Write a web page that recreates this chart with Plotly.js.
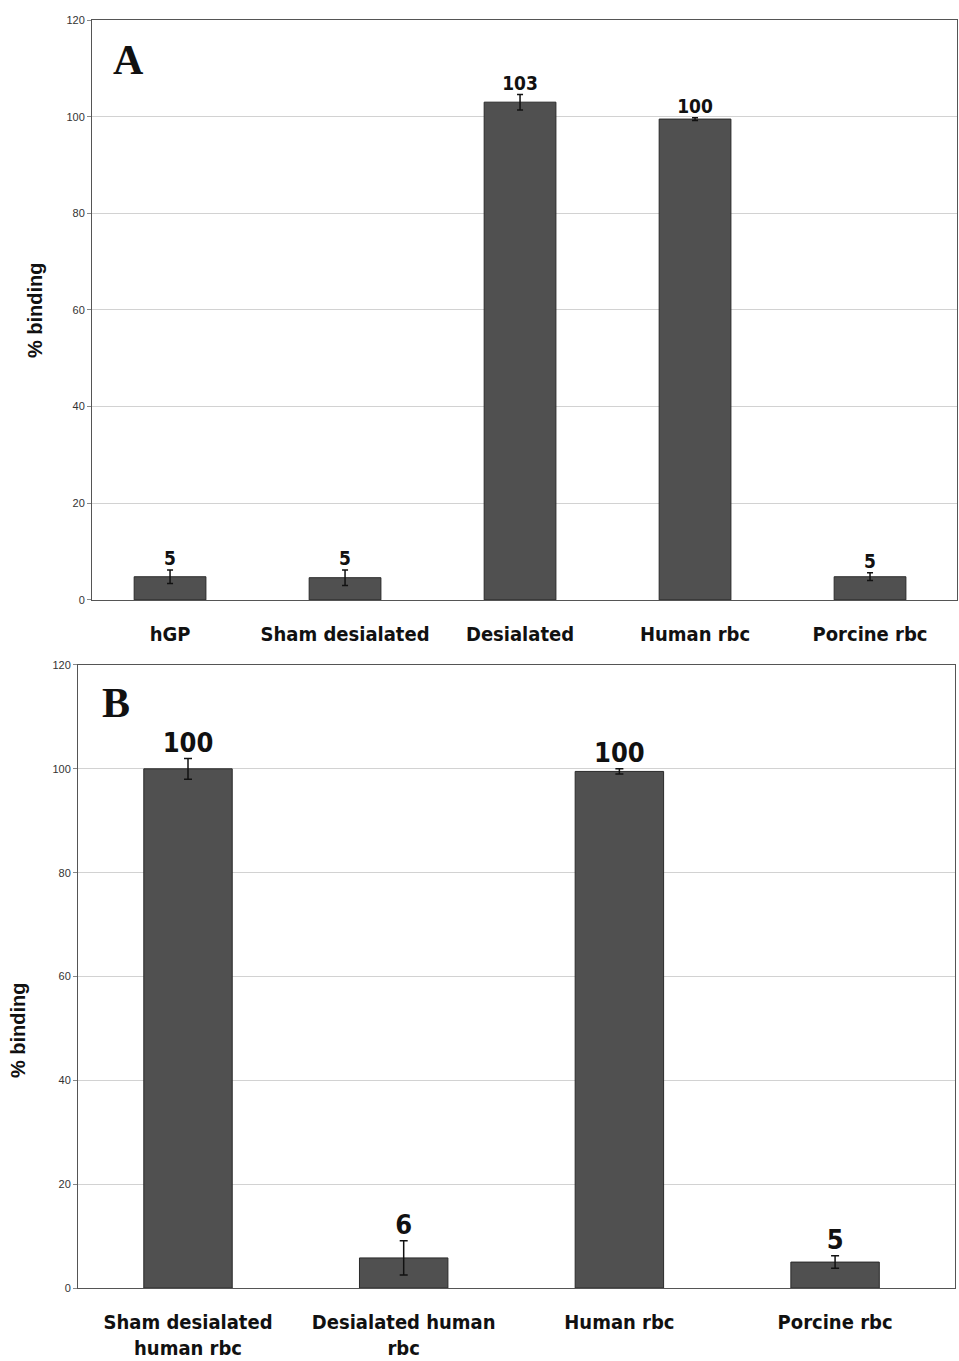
<!DOCTYPE html>
<html>
<head>
<meta charset="utf-8">
<script src="https://cdn.plot.ly/plotly-3.0.1.min.js"></script>
<style>html,body{margin:0;padding:0;background:#fff;}#chart{width:959px;height:1361px;}</style>
</head>
<body>
<div id="chart"></div>
<script>
// Panel A data
var catsA = ['hGP', 'Sham desialated', 'Desialated', 'Human rbc', 'Porcine rbc'];
var valsA = [4.8, 4.6, 103, 99.5, 4.8];
var errA = [1.4, 1.6, 1.6, 0.3, 0.8];
var labelsA = ['5', '5', '103', '100', '5'];

// Panel B data
var catsB = ['Sham desialated<br>human rbc', 'Desialated human<br>rbc', 'Human rbc', 'Porcine rbc'];
var valsB = [100, 5.8, 99.5, 5.0];
var errB = [2.0, 3.3, 0.5, 1.2];
var labelsB = ['100', '6', '100', '5'];

var yTicks = [0, 20, 40, 60, 80, 100, 120];
var panelLetters = ['A', 'B'];
var yTitle = '% binding';

var barColor = '#505050';
var font = 'Liberation Sans, Arial, sans-serif';
var narrow = 'DejaVu Sans Condensed, Roboto Condensed, Liberation Sans, sans-serif';

function tops(v, e) { return v.map(function (x, i) { return x + e[i]; }); }

var traces = [
  {
    type: 'bar', x: catsA, y: valsA, xaxis: 'x', yaxis: 'y',
    marker: {color: barColor, line: {color: '#2a2a2a', width: 1}},
    error_y: {type: 'data', array: errA, visible: true, color: '#111', thickness: 1.5, width: 3},
    width: 0.41, hoverinfo: 'none'
  },
  {
    type: 'scatter', mode: 'text', x: catsA, y: tops(valsA, errA), text: labelsA,
    textposition: 'top center', xaxis: 'x', yaxis: 'y',
    textfont: {family: narrow, size: 19, color: '#111', weight: 'bold', stretch: 'condensed'}, hoverinfo: 'none'
  },
  {
    type: 'bar', x: catsB, y: valsB, xaxis: 'x2', yaxis: 'y2',
    marker: {color: barColor, line: {color: '#2a2a2a', width: 1}},
    error_y: {type: 'data', array: errB, visible: true, color: '#111', thickness: 1.5, width: 4},
    width: 0.41, hoverinfo: 'none'
  },
  {
    type: 'scatter', mode: 'text', x: catsB, y: tops(valsB, errB), text: labelsB,
    textposition: 'top center', xaxis: 'x2', yaxis: 'y2',
    textfont: {family: narrow, size: 27, color: '#111', weight: 'bold', stretch: 'condensed'}, hoverinfo: 'none'
  }
];

var xCommon = {
  type: 'category', showgrid: false, zeroline: false,
  showline: true, mirror: true, linecolor: '#555', linewidth: 1,
  ticks: 'outside', ticklen: 16, tickcolor: 'rgba(0,0,0,0)',
  tickfont: {family: narrow, size: 20, color: '#111', weight: 'bold', stretch: 'condensed'},
  automargin: false, fixedrange: true
};
var yCommon = {
  range: [0, 120], tickvals: yTicks, ticktext: yTicks.map(String),
  showgrid: true, gridcolor: '#d2d2d2', gridwidth: 1, zeroline: false,
  showline: true, mirror: true, linecolor: '#555', linewidth: 1,
  ticks: 'outside', ticklen: 4, tickcolor: '#888',
  tickfont: {family: font, size: 11, color: '#333'},
  automargin: false, fixedrange: true
};

var layout = {
  width: 959, height: 1361,
  margin: {l: 0, r: 0, t: 0, b: 0},
  paper_bgcolor: '#fff', plot_bgcolor: '#fff',
  showlegend: false,
  xaxis: Object.assign({}, xCommon, {domain: [92 / 959, 957 / 959], range: [-0.446, 4.497], anchor: 'y'}),
  yaxis: Object.assign({}, yCommon, {domain: [0.5592, 0.9853], anchor: 'x'}),
  xaxis2: Object.assign({}, xCommon, {domain: [78 / 959, 955 / 959], range: [-0.51, 3.556], anchor: 'y2'}),
  yaxis2: Object.assign({}, yCommon, {domain: [0.0536, 0.5114], anchor: 'x2'}),
  annotations: [
    {text: panelLetters[0], xref: 'paper', yref: 'paper', x: 128 / 959, y: 1 - 60 / 1361,
     xanchor: 'center', yanchor: 'middle', showarrow: false,
     font: {family: 'Liberation Serif, DejaVu Serif, serif', size: 42, color: '#111', weight: 'bold'}},
    {text: panelLetters[1], xref: 'paper', yref: 'paper', x: 116 / 959, y: 1 - 703 / 1361,
     xanchor: 'center', yanchor: 'middle', showarrow: false,
     font: {family: 'Liberation Serif, DejaVu Serif, serif', size: 42, color: '#111', weight: 'bold'}},
    {text: yTitle, xref: 'paper', yref: 'paper', x: 35 / 959, y: 1 - 310 / 1361,
     xanchor: 'center', yanchor: 'middle', showarrow: false, textangle: -90,
     font: {family: font, size: 20, color: '#111', weight: 'bold'}},
    {text: yTitle, xref: 'paper', yref: 'paper', x: 18 / 959, y: 1 - 1030 / 1361,
     xanchor: 'center', yanchor: 'middle', showarrow: false, textangle: -90,
     font: {family: font, size: 20, color: '#111', weight: 'bold'}}
  ]
};

Plotly.newPlot('chart', traces, layout, {staticPlot: true, displayModeBar: false});
</script>
</body>
</html>
